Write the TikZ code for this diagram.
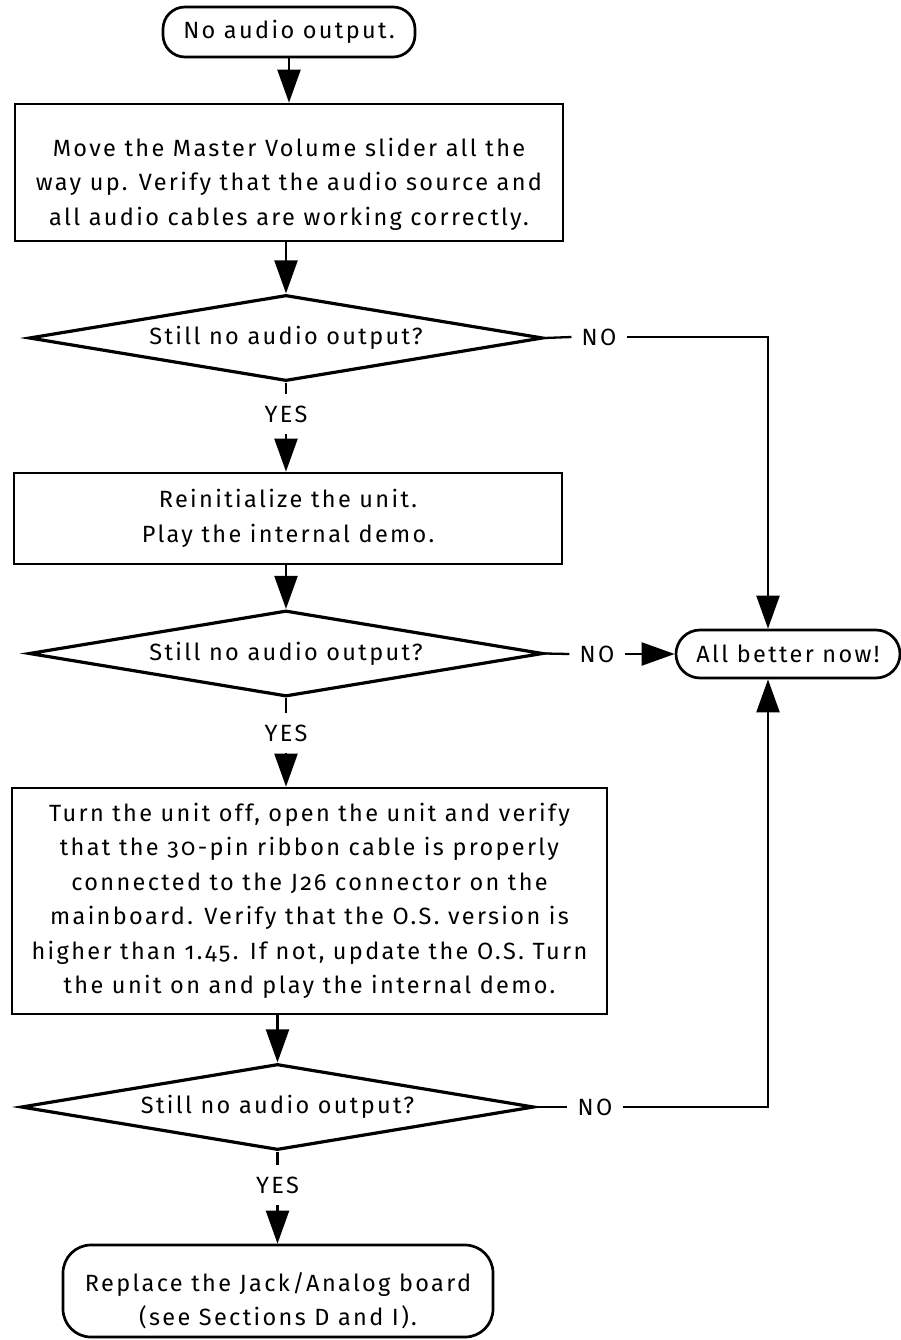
\documentclass[tikz,border=0pt]{standalone}
\usepackage{fontspec}
\setmainfont{Fira Sans}[Numbers=OldStyle,LetterSpace=10]
\usetikzlibrary{shapes.geometric,arrows.meta}
\begin{document}
\begin{tikzpicture}[x=1pt,y=-1pt,
  every node/.style={font=\fontsize{23.5}{34.5}\selectfont},
  procbox/.style={draw,line width=2.7pt,rectangle,align=center,inner sep=0pt},
  termbox/.style={draw,line width=2.7pt,rectangle,rounded corners=#1,align=center,inner sep=0pt},
  decision/.style={draw,line width=3.2pt,diamond,aspect=6,inner sep=0pt,minimum width=514pt,minimum height=86pt},
  lbl/.style={inner xsep=10pt,inner ysep=0pt},
  conn/.style={line width=2.3pt},
  arr/.style={conn,-{Triangle[width=23pt,length=33pt]}},
]
\fill[white] (0,0) rectangle (901,1340);
\useasboundingbox (0,0) rectangle (901,1340);

\node[termbox=22pt, minimum width=252pt, minimum height=50pt] (start) at (289,32) {No audio output.};
\node[procbox, minimum width=548pt, minimum height=137pt] (box1) at (289,172.5)
  {\rule{0pt}{42pt}Move the Master Volume slider all the\\way up. Verify that the audio source and\\all audio cables are working correctly.};
\node[decision] (d1) at (286,338) {Still no audio output?};
\node[lbl, minimum height=40pt] (yes1) at (286,414) {YES};
\node[procbox, minimum width=548pt, minimum height=91pt] (box2) at (288,518.5)
  {Reinitialize the unit.\\Play the internal demo.};
\node[decision] (d2) at (286,653.5) {Still no audio output?};
\node[lbl, minimum height=40pt] (yes2) at (286,733) {YES};
\node[procbox, minimum width=595pt, minimum height=226pt] (box3) at (309.5,901)
  {Turn the unit off, open the unit and verify\\that the 30-pin ribbon cable is properly\\connected to the J26 connector on the\\mainboard. Verify that the O.S. version is\\higher than 1.45. If not, update the O.S. Turn\\the unit on and play the internal demo.};
\node[decision, minimum width=513pt] (d3) at (277.5,1107) {Still no audio output?};
\node[lbl, minimum height=40pt] (yes3) at (277.5,1185) {YES};
\node[termbox=28pt, minimum width=430pt, minimum height=92pt] (final) at (278,1291)
  {\rule{0pt}{38pt}Replace the Jack/Analog board\\(see Sections D and I).};
\node[termbox=24pt, minimum width=224pt, minimum height=48pt] (better) at (788,654) {All better now!};
\node[lbl] (no1) at (599,337) {NO};
\node[lbl] (no2) at (597,654) {NO};
\node[lbl] (no3) at (595,1107) {NO};
\coordinate (vx) at (768,0);

\draw[arr] (start.south) -- (box1.north);
\draw[arr] (box1.south -| d1.north) -- (d1.north);
\draw[conn] (d1.south) -- (yes1.north);
\draw[arr] (yes1.south) -- (box2.north -| yes1.south);
\draw[arr] (box2.south -| d2.north) -- (d2.north);
\draw[conn] (d2.south) -- (yes2.north);
\draw[arr] (yes2.south) -- (box3.north -| yes2.south);
\draw[arr] (box3.south -| d3.north) -- (d3.north);
\draw[conn] (d3.south) -- (yes3.north);
\draw[arr] (yes3.south) -- (final.north -| yes3.south);
\draw[conn] (d1.east) -- (no1.west);
\draw[arr] (no1.east) -| (better.north -| vx);
\draw[conn] (d2.east) -- (no2.west);
\draw[arr] (no2.east) -- (better.west);
\draw[conn] (d3.east) -- (no3.west);
\draw[arr] (no3.east) -| (better.south -| vx);
\end{tikzpicture}
\end{document}
